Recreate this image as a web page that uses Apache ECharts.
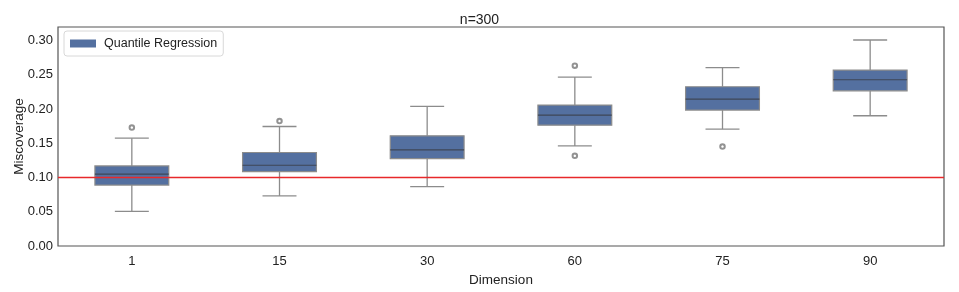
<!DOCTYPE html>
<html><head><meta charset="utf-8">
<script src="https://cdn.jsdelivr.net/npm/echarts@6/dist/echarts.min.js"></script>
<style>html,body{margin:0;padding:0;background:#fff}#c{width:959px;height:292px}</style>
</head><body><div id="c"></div>
<script>
const categories = ['1', '15', '30', '60', '75', '90'];
// [min whisker, Q1, median, Q3, max whisker]
const boxStats = [
  [0.0507, 0.089, 0.105, 0.117, 0.1576],
  [0.0732, 0.1088, 0.118, 0.1366, 0.1746],
  [0.0868, 0.1278, 0.1405, 0.161, 0.204],
  [0.1463, 0.1766, 0.1913, 0.2059, 0.2469],
  [0.1708, 0.1986, 0.2147, 0.2327, 0.2605],
  [0.1903, 0.2268, 0.2429, 0.2571, 0.301]
];
// [category index, value]
const outliers = [[0, 0.173], [1, 0.1825], [3, 0.2634], [3, 0.1317], [4, 0.1453]];
const referenceLine = 0.10;
const yTicks = [0, 0.05, 0.10, 0.15, 0.20, 0.25, 0.30];

const FONT = 'Liberation Sans, Arial, sans-serif';
const chart = echarts.init(document.getElementById('c'));
const boxData = boxStats.map((s, i) => [i].concat(s));

chart.setOption({
  animation: false,
  title: { text: 'n=300', left: 'center', top: 8, textStyle: { fontFamily: FONT, fontSize: 14, fontWeight: 'normal', color: '#222' } },
  legend: {
    left: 64, top: 31, data: ['Quantile Regression'], icon: 'rect', itemWidth: 26, itemHeight: 8,
    borderColor: '#d8d8d8', borderWidth: 1, borderRadius: 3, padding: [6, 6, 6, 6], itemGap: 8,
    textStyle: { fontFamily: FONT, fontSize: 12.5, color: '#222', padding: [0, 0, 0, 3] }
  },
  grid: { left: 58, right: 15, top: 27, bottom: 46, show: true, borderColor: '#555', borderWidth: 1.2,
          backgroundColor: 'transparent', containLabel: false, outerBoundsMode: 'none' },
  xAxis: {
    type: 'category', data: categories, name: 'Dimension', nameLocation: 'middle', nameGap: 24,
    nameTextStyle: { fontFamily: FONT, fontSize: 13.5, color: '#222' },
    axisLine: { show: false }, axisTick: { show: false }, splitLine: { show: false },
    axisLabel: { fontFamily: FONT, fontSize: 13, color: '#222', margin: 9 }
  },
  yAxis: {
    type: 'value', min: 0, max: 0.32, interval: 0.05, name: 'Miscoverage', nameLocation: 'middle', nameGap: 32,
    nameMoveOverlap: false,
    nameTextStyle: { fontFamily: FONT, fontSize: 13.5, color: '#222' },
    axisLine: { show: false }, axisTick: { show: false }, splitLine: { show: false },
    axisLabel: {
      fontFamily: FONT, fontSize: 13, color: '#222', margin: 5, showMaxLabel: false,
      formatter: v => yTicks.some(t => Math.abs(t - v) < 1e-9) ? v.toFixed(2) : ''
    }
  },
  series: [
    {
      name: 'Quantile Regression', type: 'custom', data: boxData,
      itemStyle: { color: '#5470a0' },
      encode: { x: 0, y: [1, 2, 3, 4, 5] },
      renderItem: function (params, api) {
        const idx = api.value(0);
        const cx = api.coord([idx, 0])[0];
        const band = api.size([1, 0])[0];
        const bw = band * 0.5, cw = bw * 0.46;
        const y = k => api.coord([idx, api.value(k)])[1];
        const ymin = y(1), yq1 = y(2), ymed = y(3), yq3 = y(4), ymax = y(5);
        const ws = { stroke: '#8c8c8c', lineWidth: 1.3 };
        return {
          type: 'group', children: [
            { type: 'line', shape: { x1: cx, y1: ymin, x2: cx, y2: yq1 }, style: ws },
            { type: 'line', shape: { x1: cx, y1: yq3, x2: cx, y2: ymax }, style: ws },
            { type: 'line', shape: { x1: cx - cw / 2, y1: ymin, x2: cx + cw / 2, y2: ymin }, style: ws },
            { type: 'line', shape: { x1: cx - cw / 2, y1: ymax, x2: cx + cw / 2, y2: ymax }, style: ws },
            { type: 'rect', shape: { x: cx - bw / 2, y: yq3, width: bw, height: yq1 - yq3 }, style: { fill: '#5470a0', stroke: '#8c8c8c', lineWidth: 1.2 } },
            { type: 'line', shape: { x1: cx - bw / 2, y1: ymed, x2: cx + bw / 2, y2: ymed }, style: { stroke: '#3e4656', lineWidth: 1.2 } }
          ]
        };
      },
      markLine: {
        silent: true, symbol: 'none', label: { show: false },
        lineStyle: { color: '#e8292b', width: 1.3, type: 'solid' },
        data: [{ yAxis: referenceLine }]
      },
      z: 2
    },
    {
      name: 'outliers', type: 'scatter', data: outliers, symbol: 'emptyCircle', symbolSize: 4.5,
      itemStyle: { color: '#777', borderColor: '#777', borderWidth: 1 }, z: 3
    }
  ]
});
</script></body></html>
